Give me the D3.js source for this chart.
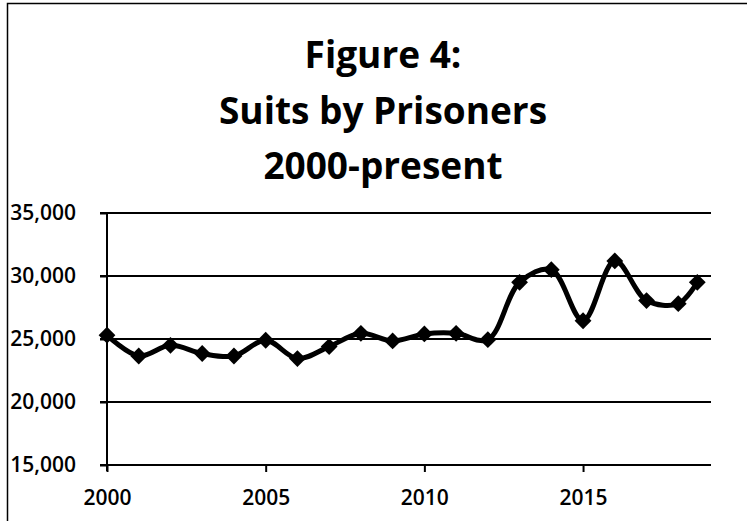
<!DOCTYPE html>
<html>
    <head>
        <title>Suits by Prisoners</title>
        <script src="https://d3js.org/d3.v7.min.js"></script>
        <meta charset="UTF-8">
        <style>
            body { margin: 0; background: #fff; }
        </style>
    </head>
    <body>
        <script>
            var w = 747;
            var h = 521;

            // data
            var years = [2000, 2001, 2002, 2003, 2004, 2005, 2006, 2007, 2008, 2009,
                         2010, 2011, 2012, 2013, 2014, 2015, 2016, 2017, 2018, 2018.6];
            var suits = [25300, 23650, 24500, 23850, 23650, 24900, 23450, 24400, 25450, 24850,
                         25400, 25450, 24950, 29500, 30500, 26450, 31200, 28050, 27800, 29500];
            var titleLines = ["Figure 4:", "Suits by Prisoners", "2000-present"];
            var yTicks = [15000, 20000, 25000, 30000, 35000];
            var xTicks = [2000, 2005, 2010, 2015];

            var points = years.map(function (d, i) { return [d, suits[i]]; });

            var font = "'Open Sans', Lato, sans-serif";

            var xscale = d3.scaleLinear().domain([2000, 2019]).range([107, 710]);
            var yscale = d3.scaleLinear().domain([15000, 35000]).range([465, 213]);

            var svg = d3.select("body")
                    .append("svg")
                    .attr("width", w)
                    .attr("height", h);

            // outer chart border (cut off at right and bottom in the scan)
            svg.append("rect")
                    .attr("x", 7.5)
                    .attr("y", 3.5)
                    .attr("width", 800)
                    .attr("height", 600)
                    .attr("fill", "none")
                    .attr("stroke", "#000")
                    .attr("stroke-width", 1.5);

            svg.selectAll(".title")
                    .data(titleLines)
                    .enter()
                    .append("text")
                    .attr("class", "title")
                    .attr("x", 383)
                    .attr("y", function (d, i) { return 68 + i * 55.5; })
                    .attr("text-anchor", "middle")
                    .style("font-family", font)
                    .style("font-weight", "bold")
                    .style("font-size", "37px")
                    .text(function (d) { return d; });

            // horizontal gridlines
            svg.selectAll(".grid")
                    .data(yTicks)
                    .enter()
                    .append("line")
                    .attr("class", "grid")
                    .attr("x1", 100)
                    .attr("x2", 711)
                    .attr("y1", function (d) { return yscale(d); })
                    .attr("y2", function (d) { return yscale(d); })
                    .attr("stroke", "#000")
                    .attr("stroke-width", 2);

            // y axis
            var yAxis = svg.append("g")
                    .attr("transform", "translate(107,0)")
                    .call(d3.axisLeft(yscale)
                        .tickValues(yTicks)
                        .tickFormat(d3.format(","))
                        .tickSize(7)
                        .tickPadding(24));
            yAxis.select(".domain").remove();
            yAxis.append("line")
                    .attr("y1", 213)
                    .attr("y2", 471)
                    .attr("stroke", "#000")
                    .attr("stroke-width", 2);

            // x axis
            var xAxis = svg.append("g")
                    .attr("transform", "translate(0,465)")
                    .call(d3.axisBottom(xscale)
                        .tickValues(xTicks)
                        .tickFormat(d3.format("d"))
                        .tickSize(7)
                        .tickPadding(18));
            xAxis.select(".domain").remove();

            svg.selectAll(".tick line")
                    .attr("stroke", "#000")
                    .attr("stroke-width", 2);
            svg.selectAll(".tick text")
                    .attr("fill", "#000")
                    .style("font-family", font)
                    .style("font-weight", "600")
                    .style("font-size", "21px");
            yAxis.selectAll(".tick text")
                    .attr("x", -31)
                    .attr("text-anchor", "end")
                    .attr("dy", "0.3em");

            // smoothed series line
            var line = d3.line()
                    .x(function (d) { return xscale(d[0]); })
                    .y(function (d) { return yscale(d[1]); })
                    .curve(d3.curveCatmullRom.alpha(0.5));

            svg.append("path")
                    .datum(points)
                    .attr("d", line)
                    .attr("fill", "none")
                    .attr("stroke", "#000")
                    .attr("stroke-width", 5)
                    .attr("stroke-linejoin", "round");

            // diamond markers
            svg.selectAll(".pt")
                    .data(points)
                    .enter()
                    .append("path")
                    .attr("class", "pt")
                    .attr("d", d3.symbol().type(d3.symbolDiamond2).size(180))
                    .attr("transform", function (d) {
                        return "translate(" + xscale(d[0]) + "," + yscale(d[1]) + ")";
                    })
                    .attr("fill", "#000");
        </script>
    </body>
</html>
